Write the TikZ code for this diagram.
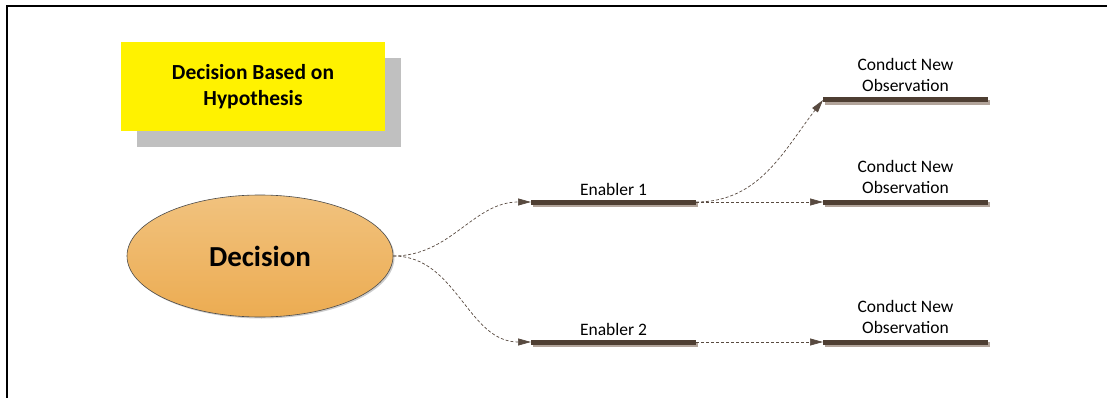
\documentclass[tikz,border=0pt]{standalone}
\usepackage{fontspec}
\setmainfont{Carlito}
\usepackage{tikz}
\usetikzlibrary{positioning,shapes,shadows,arrows.meta}

\definecolor{barbrown}{RGB}{78,62,50}
\definecolor{barshade}{RGB}{178,164,154}
\definecolor{linkbrown}{RGB}{88,74,64}
\definecolor{ovaltop}{RGB}{241,194,126}
\definecolor{ovalbot}{RGB}{236,172,82}
\definecolor{boxshade}{RGB}{192,192,192}

\begin{document}
\begin{tikzpicture}[x=1pt,y=-1pt,
  bar/.style={rectangle,fill=barbrown,minimum width=165pt,minimum height=5pt,inner sep=0pt,outer sep=0pt,
    drop shadow={shadow xshift=2pt,shadow yshift=-2.5pt,fill=barshade,opacity=1}},
  lbl/.style={inner sep=0pt,outer sep=0pt,align=center,font=\fontsize{17.5}{21}\selectfont},
  link/.style={draw=linkbrown,line width=0.7pt,dash pattern=on 3pt off 2pt,
    -{Triangle[length=13pt,width=7pt,fill=linkbrown]}},
  title/.style={rectangle,fill=yellow,minimum width=264pt,minimum height=89pt,align=center,
    font=\fontsize{21.5}{26}\selectfont\bfseries,
    drop shadow={shadow xshift=16pt,shadow yshift=-16pt,fill=boxshade,opacity=1}},
  oval/.style={ellipse,draw=black!70,line width=0.6pt,top color=ovaltop,bottom color=ovalbot,
    minimum width=266pt,minimum height=122pt,inner sep=0pt,
    font=\fontsize{29}{34}\selectfont\bfseries,
    drop shadow={shadow xshift=1.5pt,shadow yshift=-1.5pt,fill=black,opacity=0.2}}]
\useasboundingbox (0,0) rectangle (1107,398);
% border
\draw [line width=2pt] (7,398) -- (7,6) -- (1107,6);

\node [title] (hyp) at (253,87) {Decision Based on\\Hypothesis};
\node [oval] (dec) at (260,256) {Decision};

% enablers
\node [bar] (en1) at (613.5,202) {};
\node [lbl,above=4pt of en1] (en1txt) {Enabler 1};
\node [bar] (en2) at (613.5,342) {};
\node [lbl,above=4pt of en2] (en2txt) {Enabler 2};

% observations
\node [bar] (obs1) at (905.5,100) {};
\node [lbl,above=6pt of obs1] (obs1txt) {Conduct New\\Observation};
\node [bar] (obs2) at (905.5,202) {};
\node [lbl,above=6pt of obs2] (obs2txt) {Conduct New\\Observation};
\node [bar] (obs3) at (905.5,342) {};
\node [lbl,above=6pt of obs3] (obs3txt) {Conduct New\\Observation};

% links
\draw [link] (dec.east) to [out=0,in=180] (en1.west);
\draw [link] (dec.east) to [out=0,in=180] (en2.west);
\draw [link] (en1.east) to [out=0,in=232] (obs1.west);
\draw [link] (en1.east) -- (obs2.west);
\draw [link] (en2.east) -- (obs3.west);
\end{tikzpicture}
\end{document}
